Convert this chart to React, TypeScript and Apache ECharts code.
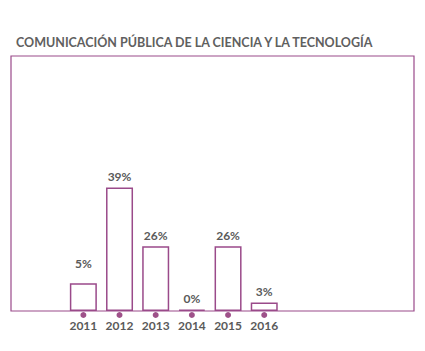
import React, { useEffect, useRef } from "react";
import * as echarts from "echarts";

const title = "COMUNICACIÓN PÚBLICA DE LA CIENCIA Y LA TECNOLOGÍA";
const years = [2011, 2012, 2013, 2014, 2015, 2016];
// bar heights as drawn (share of plot height, 0-100)
const barHeights = [10.9, 48.4, 25.4, 0.5, 25.4, 3.3];
const percentLabels = ["5%", "39%", "26%", "0%", "26%", "3%"];

const PURPLE = "#9a4a8a";
const DOT = "#86256b";
const TEXT = "#5a5a5a";
const FONT = "Lato, 'Open Sans', sans-serif";

export default function App() {
  const ref = useRef<HTMLDivElement>(null);
  useEffect(() => {
    if (!ref.current) return;
    const chart = echarts.init(ref.current, undefined, { renderer: "svg" });
    chart.setOption({
      animation: false,
      backgroundColor: "#ffffff",
      title: {
        text: title,
        left: 11,
        top: 31,
        textStyle: { fontFamily: FONT, fontSize: 12.5, fontWeight: "bold", color: "#606060" },
      },
      grid: {
        show: true,
        left: 11,
        right: 11,
        top: 56,
        bottom: 40,
        borderColor: PURPLE,
        borderWidth: 1.2,
        backgroundColor: "transparent",
      },
      xAxis: {
        type: "value",
        min: 2009,
        max: 2020.14,
        interval: 1,
        splitLine: { show: false },
        axisLine: { show: false },
        axisTick: { show: false },
        axisLabel: {
          margin: 8,
          showMaxLabel: false,
          showMinLabel: false,
          fontFamily: FONT,
          fontSize: 12,
          fontWeight: "bold",
          color: TEXT,
          formatter: (v: number) => (years.includes(Math.round(v)) && Math.abs(v - Math.round(v)) < 1e-6 ? String(Math.round(v)) : ""),
        },
      },
      yAxis: {
        type: "value",
        min: 0,
        max: 100,
        show: false,
      },
      series: [
        {
          type: "bar",
          barWidth: 27,
          data: years.map((y, i) => ({
            value: [y, barHeights[i]],
            label: i === 0 ? { distance: 14 } : undefined,
          })),
          itemStyle: { color: "#ffffff", borderColor: PURPLE, borderWidth: 1.5 },
          label: {
            show: true,
            position: "top",
            distance: 5,
            fontFamily: FONT,
            fontSize: 12,
            fontWeight: "bold",
            color: TEXT,
            formatter: (p: any) => percentLabels[p.dataIndex],
          },
        },
        {
          type: "scatter",
          clip: false,
          symbol: "circle",
          symbolSize: 6,
          symbolOffset: [0, 4],
          itemStyle: { color: DOT },
          data: years.map((y) => [y, 0]),
          z: 5,
        },
      ],
    });
    return () => chart.dispose();
  }, []);
  return <div ref={ref} style={{ position: "fixed", left: 0, top: 0, width: 425, height: 351 }} />;
}
